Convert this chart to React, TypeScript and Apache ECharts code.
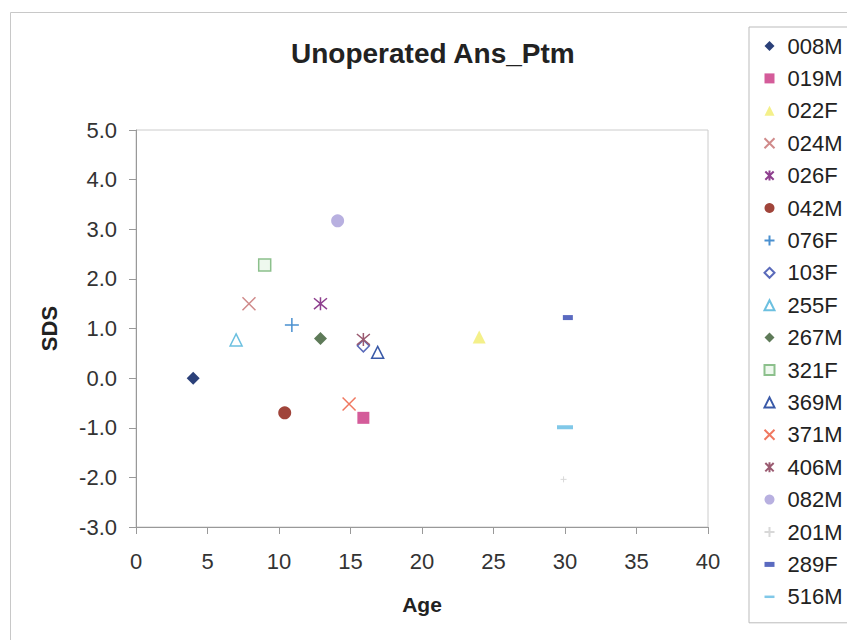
import React, { useEffect, useRef } from "react";
import * as echarts from "echarts";

const seriesNames = ["008M", "019M", "022F", "024M", "026F", "042M", "076F", "103F", "255F", "267M", "321F", "369M", "371M", "406M", "082M", "201M", "289F", "516M"];
const ages = [4.0, 15.9, 24.0, 7.9, 12.9, 10.4, 10.9, 15.9, 7.0, 12.9, 9.0, 16.9, 14.9, 15.9, 14.1, 29.9, 30.2, 30.0];
const sdsValues = [0.0, -0.8, 0.83, 1.5, 1.5, -0.7, 1.07, 0.65, 0.77, 0.8, 2.28, 0.52, -0.52, 0.78, 3.17, -2.04, 1.22, -0.99];
const xTicks = [0, 5, 10, 15, 20, 25, 30, 35, 40];
const yTicks = [-3, -2, -1, 0, 1, 2, 3, 4, 5];

const CROSS = "path://M0,0L10,10M10,0L0,10";
const STAR = "path://M0,0L10,10M10,0L0,10M5,-1L5,11";
const PLUS = "path://M5,0L5,10M0,5L10,5";
const DASH_SHORT = "path://M0,0L10,0L10,5L0,5Z";
const DASH_LONG = "path://M0,0L16,0L16,4L0,4Z";

type Style = { symbol: string; size: number | number[]; color: string; fill?: string; stroke?: number; legendIcon?: string };
const styles: Style[] = [
  { symbol: "diamond", size: 13, color: "#2B4079" },
  { symbol: "rect", size: 12, color: "#D45C9A" },
  { symbol: "triangle", size: 13, color: "#F4F08A" },
  { symbol: CROSS, size: 13, color: "#D08A8A", fill: "none", stroke: 1.5 },
  { symbol: STAR, size: 13, color: "#8E3F8E", fill: "none", stroke: 1.5 },
  { symbol: "circle", size: 13, color: "#A0443A" },
  { symbol: PLUS, size: 14, color: "#4A90D0", fill: "none", stroke: 1.5 },
  { symbol: "diamond", size: 12, color: "#5A6ABA", fill: "#ffffff", stroke: 1.5 },
  { symbol: "triangle", size: 12, color: "#6CC0E0", fill: "#ffffff", stroke: 1.5 },
  { symbol: "diamond", size: 13, color: "#5E7A58" },
  { symbol: "rect", size: 12, color: "#8CC08C", fill: "#EEF8EE", stroke: 1.5 },
  { symbol: "triangle", size: 12, color: "#3A5AA8", fill: "#ffffff", stroke: 1.5 },
  { symbol: CROSS, size: 13, color: "#F07860", fill: "none", stroke: 1.5 },
  { symbol: STAR, size: 13, color: "#9A5A70", fill: "none", stroke: 1.5 },
  { symbol: "circle", size: 13, color: "#B8B0E0" },
  { symbol: PLUS, size: 6, color: "#D8D8D8", fill: "none", stroke: 1 },
  { symbol: "rect", size: [10, 5], color: "#5A6AC0", legendIcon: DASH_SHORT },
  { symbol: "rect", size: [16, 4], color: "#80C8E8", legendIcon: DASH_LONG },
];

const FONT = "'Liberation Sans', Arial, sans-serif";

export default function App() {
  const ref = useRef<HTMLDivElement>(null);
  useEffect(() => {
    if (!ref.current) return;
    const chart = echarts.init(ref.current, undefined, { renderer: "svg" });
    const series = seriesNames.map((name, i) => {
      const s = styles[i];
      return {
        name,
        type: "scatter",
        data: [[ages[i], sdsValues[i]]],
        symbol: s.symbol,
        symbolSize: s.size,
        itemStyle: {
          color: s.fill ?? s.color,
          borderColor: s.color,
          borderWidth: s.stroke ?? 0,
          opacity: 1,
        },
        emphasis: { disabled: true },
      };
    });
    const legendData = seriesNames.map((name, i) =>
      styles[i].legendIcon ? { name, icon: styles[i].legendIcon } : { name }
    );
    chart.setOption({
      animation: false,
      backgroundColor: "#ffffff",
      textStyle: { fontFamily: FONT },
      title: {
        text: "Unoperated Ans_Ptm",
        left: 291,
        top: 39,
        padding: 0,
        textStyle: { fontFamily: FONT, fontSize: 28, fontWeight: "bold", color: "#222" },
      },
      graphic: [
        {
          type: "rect",
          shape: { x: 10.5, y: 12.5, width: 900, height: 700 },
          style: { fill: "none", stroke: "#c8c8c8", lineWidth: 1 },
          silent: true,
          z: -10,
        },
      ],
      legend: {
        left: 749,
        top: 27,
        orient: "vertical",
        padding: [8, 40, 15, 13],
        itemGap: 10.4,
        itemWidth: 10,
        itemHeight: 10,
        borderColor: "#bbbbbb",
        borderWidth: 1,
        textStyle: { fontFamily: FONT, fontSize: 22, lineHeight: 22, color: "#222", padding: [0, 0, 0, 8] },
        data: legendData,
      },
      grid: {
        left: 136,
        top: 130,
        right: 139,
        bottom: 113,
        show: true,
        borderColor: "#cccccc",
        borderWidth: 1,
        backgroundColor: "#ffffff",
      },
      xAxis: {
        type: "value",
        min: xTicks[0],
        max: xTicks[xTicks.length - 1],
        interval: 5,
        name: "Age",
        nameLocation: "middle",
        nameGap: 67,
        nameTextStyle: { fontFamily: FONT, fontSize: 21, fontWeight: "bold", color: "#222" },
        splitLine: { show: false },
        axisLine: { show: true, onZero: false, lineStyle: { color: "#999999" } },
        axisTick: { show: true, length: 7, lineStyle: { color: "#999999" } },
        axisLabel: { fontFamily: FONT, fontSize: 22, color: "#333", margin: 23 },
      },
      yAxis: {
        type: "value",
        min: yTicks[0],
        max: yTicks[yTicks.length - 1],
        interval: 1,
        name: "SDS",
        nameLocation: "middle",
        nameRotate: 90,
        nameGap: 76,
        nameTextStyle: { fontFamily: FONT, fontSize: 22, fontWeight: "bold", color: "#222" },
        splitLine: { show: false },
        axisLine: { show: true, onZero: false, lineStyle: { color: "#999999" } },
        axisTick: { show: true, length: 7, lineStyle: { color: "#999999" } },
        axisLabel: {
          fontFamily: FONT,
          fontSize: 22,
          color: "#333",
          margin: 19,
          formatter: (v: number) => v.toFixed(1),
        },
      },
      series,
    });
    return () => chart.dispose();
  }, []);
  return (
    <div
      ref={ref}
      style={{ position: "fixed", left: 0, top: 0, width: 847, height: 640 }}
    />
  );
}
